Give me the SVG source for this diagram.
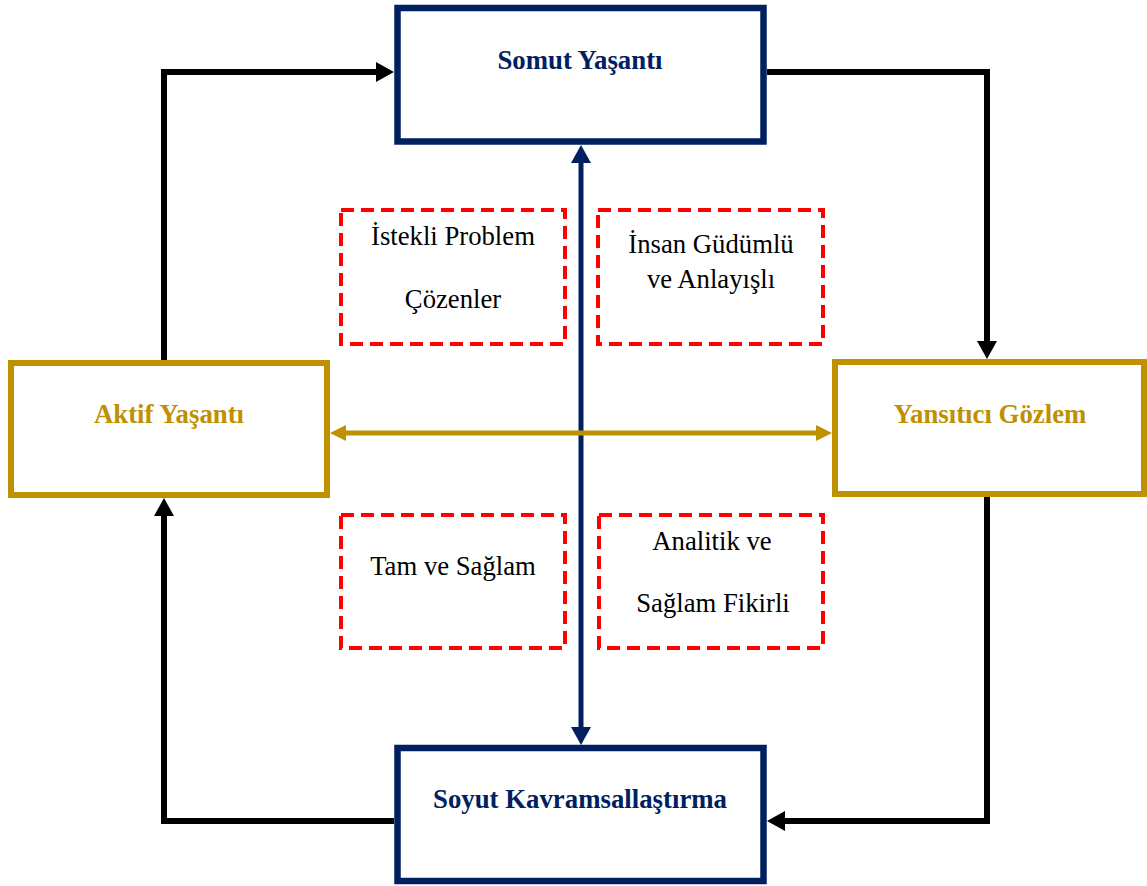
<svg xmlns="http://www.w3.org/2000/svg" width="1147" height="886" viewBox="0 0 1147 886">
  <style>
    .navybox { fill: #ffffff; stroke: #002060; stroke-width: 6.5; }
    .goldbox { fill: #ffffff; stroke: #BF9000; stroke-width: 6; }
    .dash { fill: #ffffff; stroke: #FF0000; stroke-width: 4; stroke-dasharray: 13 7; }
    .lbl { font-family: "Liberation Serif", "Times New Roman", serif; font-size: 26.8px; font-weight: bold; text-anchor: middle; }
    .navytxt { fill: #002060; }
    .goldtxt { fill: #BF9000; }
    .note { font-family: "Liberation Serif", "Times New Roman", serif; font-size: 26.7px; fill: #000000; text-anchor: middle; }
    .blk { fill: none; stroke: #000000; stroke-width: 6; stroke-linejoin: miter; }
    .nav { fill: none; stroke: #002060; stroke-width: 5; }
    .gld { fill: none; stroke: #BF9000; stroke-width: 5; }
  </style>
  <defs>
    <marker id="arrBlack" markerUnits="userSpaceOnUse" markerWidth="18" markerHeight="20" refX="8" refY="10" orient="auto">
      <path d="M0,0 L18,10 L0,20 z" fill="#000000"/>
    </marker>
    <marker id="arrNavy" markerUnits="userSpaceOnUse" markerWidth="18" markerHeight="20" refX="8" refY="10" orient="auto-start-reverse">
      <path d="M0,0 L18,10 L0,20 z" fill="#002060"/>
    </marker>
    <marker id="arrGold" markerUnits="userSpaceOnUse" markerWidth="16" markerHeight="16" refX="6" refY="8" orient="auto-start-reverse">
      <path d="M0,0 L16,8 L0,16 z" fill="#BF9000"/>
    </marker>
  </defs>
  <rect width="1147" height="886" fill="#ffffff"/>

  <g id="connectors">
    <path class="blk" d="M164,363 V72 H384" marker-end="url(#arrBlack)"/>
    <path class="blk" d="M767,72 H987 V349" marker-end="url(#arrBlack)"/>
    <path class="blk" d="M987,497 V821 H777" marker-end="url(#arrBlack)"/>
    <path class="blk" d="M394,821 H164 V508" marker-end="url(#arrBlack)"/>
    <path class="nav" d="M581,155 V735" marker-start="url(#arrNavy)" marker-end="url(#arrNavy)"/>
    <path class="gld" d="M340,433 H822" marker-start="url(#arrGold)" marker-end="url(#arrGold)"/>
  </g>

  <g id="somut">
    <rect class="navybox" x="397.5" y="8" width="366" height="133.5"/>
    <text class="lbl navytxt" x="580" y="69">Somut Yaşantı</text>
  </g>
  <g id="aktif">
    <rect class="goldbox" x="11" y="363" width="316" height="132"/>
    <text class="lbl goldtxt" x="169" y="423">Aktif Yaşantı</text>
  </g>
  <g id="yansitici">
    <rect class="goldbox" x="835" y="362" width="309" height="132"/>
    <text class="lbl goldtxt" x="990" y="423">Yansıtıcı Gözlem</text>
  </g>
  <g id="soyut">
    <rect class="navybox" x="397.5" y="748" width="366" height="133"/>
    <text class="lbl navytxt" x="580" y="808">Soyut Kavramsallaştırma</text>
  </g>

  <g id="istekli">
    <rect class="dash" x="341" y="210" width="224" height="134"/>
    <text class="note" x="453" y="245">İstekli Problem</text>
    <text class="note" x="453" y="308">Çözenler</text>
  </g>
  <g id="insan">
    <rect class="dash" x="598" y="210" width="225" height="134"/>
    <text class="note" x="711" y="253">İnsan Güdümlü</text>
    <text class="note" x="711" y="288">ve Anlayışlı</text>
  </g>
  <g id="tam">
    <rect class="dash" x="341" y="515" width="224" height="133"/>
    <text class="note" x="453" y="575">Tam ve Sağlam</text>
  </g>
  <g id="analitik">
    <rect class="dash" x="599" y="515" width="224" height="133"/>
    <text class="note" x="712" y="550">Analitik ve</text>
    <text class="note" x="713" y="612">Sağlam Fikirli</text>
  </g>
</svg>
